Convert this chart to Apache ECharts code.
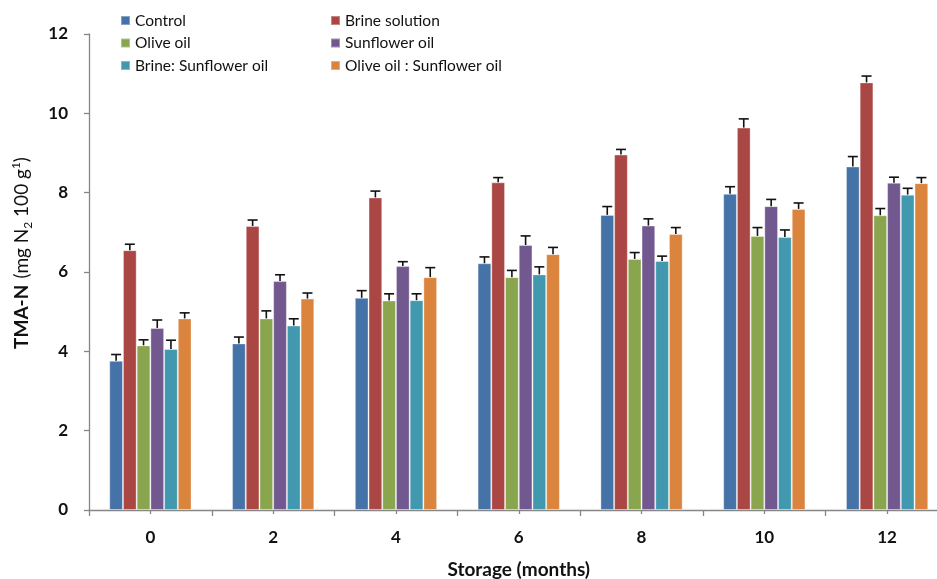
<!DOCTYPE html>
<html><head><meta charset="utf-8">
<script src="https://cdn.jsdelivr.net/npm/echarts@6/dist/echarts.min.js"></script>
<style>html,body{margin:0;padding:0;background:#fff}#c{width:937px;height:579px}</style>
</head><body><div id="c"></div>
<script>
const categories = ['0', '2', '4', '6', '8', '10', '12'];
const seriesNames = ['Control', 'Brine solution', 'Olive oil', 'Sunflower oil', 'Brine: Sunflower oil', 'Olive oil : Sunflower oil'];
const control      = [3.76, 4.20, 5.35, 6.22, 7.44, 7.97, 8.66];
const brine        = [6.55, 7.16, 7.88, 8.26, 8.96, 9.64, 10.78];
const olive        = [4.15, 4.83, 5.28, 5.87, 6.33, 6.91, 7.43];
const sunflower    = [4.59, 5.77, 6.15, 6.68, 7.17, 7.66, 8.25];
const brineSun     = [4.06, 4.65, 5.29, 5.94, 6.28, 6.88, 7.95];
const oliveSun     = [4.83, 5.33, 5.87, 6.45, 6.96, 7.59, 8.24];
const controlErr   = [0.16, 0.16, 0.18, 0.16, 0.21, 0.18, 0.25];
const brineErr     = [0.15, 0.15, 0.16, 0.12, 0.13, 0.22, 0.16];
const oliveErr     = [0.14, 0.19, 0.17, 0.17, 0.16, 0.21, 0.17];
const sunflowerErr = [0.20, 0.16, 0.11, 0.23, 0.17, 0.17, 0.14];
const brineSunErr  = [0.22, 0.17, 0.16, 0.19, 0.12, 0.18, 0.16];
const oliveSunErr  = [0.14, 0.14, 0.24, 0.17, 0.16, 0.15, 0.14];
const yTicks = [0, 2, 4, 6, 8, 10, 12];

const values = [control, brine, olive, sunflower, brineSun, oliveSun];
const errs = [controlErr, brineErr, oliveErr, sunflowerErr, brineSunErr, oliveSunErr];
const colors = ['#4572A7', '#AA4643', '#89A54E', '#71588F', '#4198AF', '#DB843D'];
const FONT = 'Lato';
const CAT_GAP = 0.33;

const barSeries = values.map((v, i) => ({
  name: seriesNames[i], type: 'bar', data: v,
  barGap: '0%', barCategoryGap: (CAT_GAP * 100) + '%',
  itemStyle: { color: colors[i], borderColor: 'rgba(255,255,255,0.35)', borderWidth: 1 },
  emphasis: { disabled: true }, z: 2
}));

const errData = [];
values.forEach((v, s) => v.forEach((val, c) => errData.push([c, val, errs[s][c], s])));

const errSeries = {
  type: 'custom', data: errData, z: 5, silent: true,
  encode: { x: 0, y: 1 },
  renderItem: function (params, api) {
    const c = api.value(0), val = api.value(1), e = api.value(2), s = api.value(3);
    const base = api.coord([c, val]);
    const top = api.coord([c, val + e]);
    const band = api.size([1, 0])[0];
    const gw = band * (1 - CAT_GAP);
    const bw = gw / 6;
    const x = base[0] - gw / 2 + bw * (s + 0.5);
    const st = { stroke: '#111', lineWidth: 1.6 };
    return { type: 'group', children: [
      { type: 'line', shape: { x1: x, y1: base[1], x2: x, y2: top[1] }, style: st },
      { type: 'line', shape: { x1: x - 5, y1: top[1], x2: x + 5, y2: top[1] }, style: st }
    ]};
  }
};

const legendCommon = {
  orient: 'vertical', icon: 'rect', itemWidth: 9, itemHeight: 9, itemGap: 6.5, padding: 0,
  textStyle: { fontFamily: FONT, fontSize: 15.5, color: '#111', lineHeight: 15 },
  top: 12.5, selectedMode: false
};

const option = {
  animation: false,
  textStyle: { fontFamily: FONT },
  legend: [
    Object.assign({}, legendCommon, { left: 120, data: [seriesNames[0], seriesNames[2], seriesNames[4]] }),
    Object.assign({}, legendCommon, { left: 330, data: [seriesNames[1], seriesNames[3], seriesNames[5]] })
  ],
  grid: { left: 89, top: 34, bottom: 69, right: -11.5, containLabel: false, outerBoundsMode: 'none' },
  xAxis: [{
    type: 'category', data: categories,
    axisLine: { lineStyle: { color: '#868686', width: 1.3 } },
    axisTick: { show: true, length: 6, lineStyle: { color: '#868686', width: 1.3 } },
    axisLabel: { fontFamily: FONT, fontSize: 17, fontWeight: 'bold', color: '#111', margin: 19 },
    name: 'Storage (months)', nameLocation: 'middle', nameGap: 50,
    nameTextStyle: { fontFamily: FONT, fontSize: 19, fontWeight: 'bold', color: '#111' }
  }, {
    type: 'category', data: categories, position: 'bottom',
    axisLine: { show: false },
    axisTick: { show: true, alignWithLabel: true, length: 4, lineStyle: { color: '#868686', width: 1.3 } },
    axisLabel: { show: false }
  }],
  yAxis: {
    type: 'value', min: 0, max: 12, interval: 2,
    axisLine: { show: true, lineStyle: { color: '#868686', width: 1.3 } },
    axisTick: { show: true, length: 5, lineStyle: { color: '#868686', width: 1.3 } },
    splitLine: { show: false },
    axisLabel: { fontFamily: FONT, fontSize: 17, fontWeight: 'bold', color: '#111', margin: 21,
      formatter: v => yTicks.includes(v) ? String(v) : '' },
    name: '{b|TMA-N}  {r|(mg N}{sub|2}{r| 100 g}{sup|1}{r|)}',
    nameLocation: 'middle', nameGap: 55, nameRotate: 90,
    nameTextStyle: {
      padding: [0, 0, 0, 38],
      rich: {
        b: { fontFamily: FONT, fontSize: 19, fontWeight: 'bold', color: '#111', lineHeight: 24 },
        r: { fontFamily: FONT, fontSize: 19, color: '#111', lineHeight: 24 },
        sub: { fontFamily: FONT, fontSize: 12, color: '#111', lineHeight: 24, verticalAlign: 'bottom', padding: [7, 0, 0, 0] },
        sup: { fontFamily: FONT, fontSize: 12, color: '#111', lineHeight: 24, verticalAlign: 'top', padding: [0, 0, 9, 0] }
      }
    }
  },
  series: barSeries.concat([errSeries])
};

const chart = echarts.init(document.getElementById('c'), null, { renderer: 'canvas' });
chart.setOption(option);
</script></body></html>
